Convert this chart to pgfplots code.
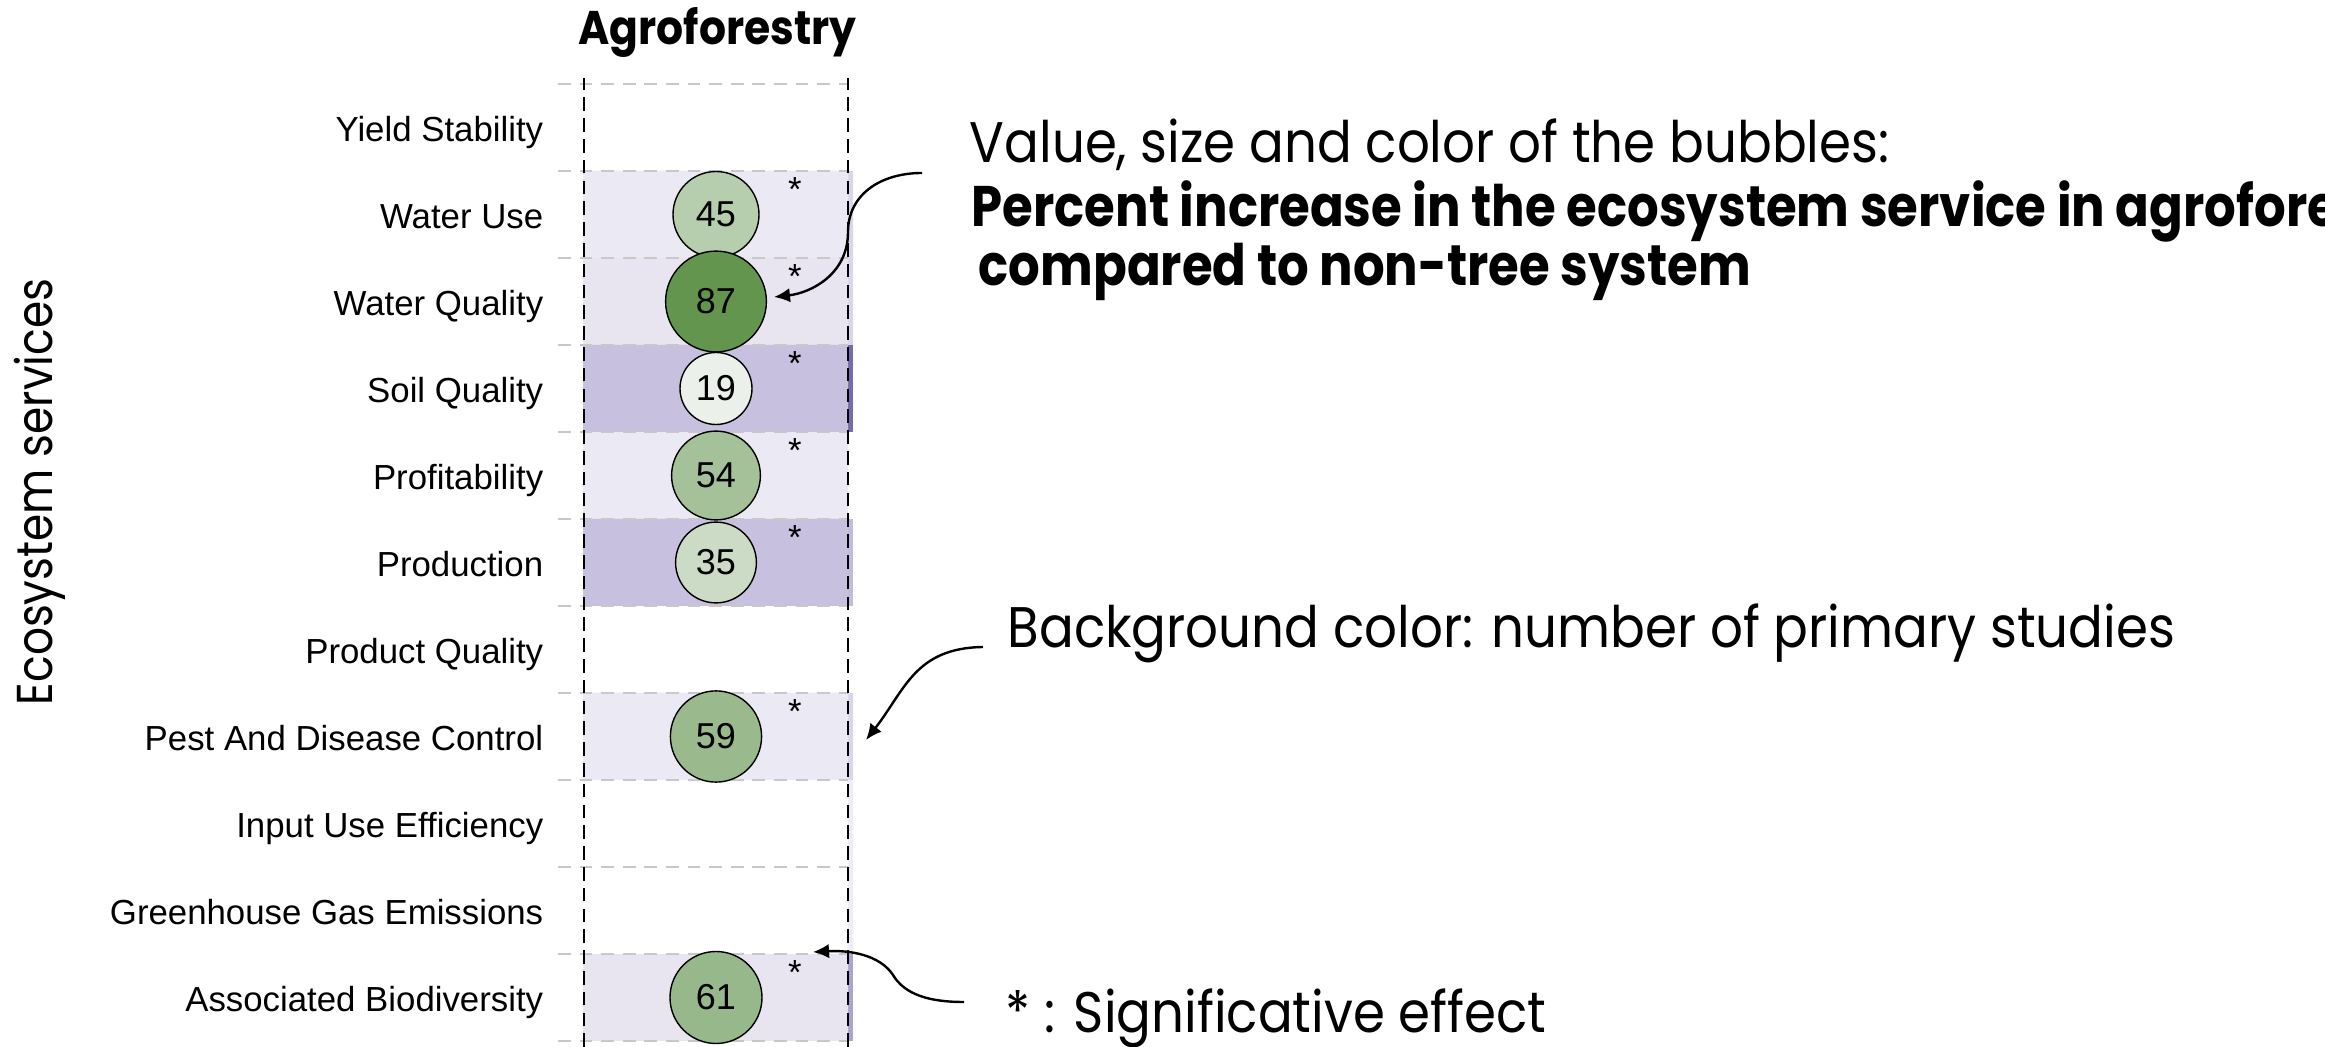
\documentclass[border=0pt]{standalone}
\usepackage{fontspec}
\setmainfont{Liberation Sans}
\newfontfamily\cg[FakeStretch=0.9]{Poppins}
\newfontfamily\cgB[FakeStretch=0.87]{Poppins}
\newfontfamily\cgN[FakeStretch=0.87]{Poppins}
\usepackage{pgfplots}
\pgfplotsset{compat=1.18}
\usetikzlibrary{arrows.meta}

% tile colours (number of primary studies)
\definecolor{tileA}{HTML}{EBE9F3}
\definecolor{tileB}{HTML}{E8E5F1}
\definecolor{tileC}{HTML}{C7C0DE}
% right-hand slivers of the neighbouring column
\definecolor{sliA}{HTML}{DAD6EA}
\definecolor{sliB}{HTML}{776BB0}
\definecolor{sliC}{HTML}{C3BBDB}
\definecolor{sliD}{HTML}{EEECF5}
\definecolor{sliE}{HTML}{ACA3D0}
\definecolor{gridgray}{HTML}{C8C8C8}

\tikzset{
  gline/.style={gridgray,line width=0.65pt,dash pattern=on 3.2pt off 2.2pt},
  vline/.style={black,line width=0.65pt,dash pattern=on 3.4pt off 1.8pt},
  note/.style={anchor=base west,inner sep=0pt,font=\cg\fontsize{14.3}{16}\selectfont},
  arr/.style={line width=0.6pt,-{Latex[length=4pt,width=3.6pt]}},
}

% row: 1 = Associated Biodiversity ... 11 = Yield Stability
\pgfplotstableread{
x   y  v  r
133 10 45 10.75
133 9  87 12.6
133 8  19 9.0
133 7  54 11.1
133 6  35 10.1
133 4  59 11.4
133 1  61 11.5
}\bubbles

\begin{document}
\begin{tikzpicture}
\path[use as bounding box] (0,0) rectangle (581.25pt,-261.75pt);
\begin{axis}[
  at={(145.75pt,-261.75pt)}, anchor=south west,
  scale only axis, width=67.5pt, height=242.25pt,
  xmin=0, xmax=270, ymin=0.431, ymax=11.569,
  clip=false,
  axis x line=none,
  axis y line*=left,
  y axis line style={draw=none},
  major tick length=0pt,
  ytick={1,...,11},
  yticklabels={Associated Biodiversity,Greenhouse Gas Emissions,Input Use Efficiency,
    Pest And Disease Control,Product Quality,Production,Profitability,Soil Quality,
    Water Quality,Water Use,Yield Stability},
  yticklabel style={font=\fontsize{8.7}{10}\selectfont,anchor=base east,inner sep=0pt,
    xshift=-9.75pt,yshift=-3.4pt},
  colormap={grn}{rgb255=(235,241,234) rgb255=(99,149,79)},
  point meta min=19, point meta max=87,
  /pgf/number format/assume math mode=true,
]
  % slivers
  \addplot[xbar,bar shift=0pt,bar width=1,fill=sliA,draw=none] coordinates {(270,10) (270,9) (270,4)};
  \addplot[xbar,bar shift=0pt,bar width=1,fill=sliB,draw=none] coordinates {(270,8)};
  \addplot[xbar,bar shift=0pt,bar width=1,fill=sliC,draw=none] coordinates {(270,6)};
  \addplot[xbar,bar shift=0pt,bar width=1,fill=sliD,draw=none] coordinates {(270,3) (270,2)};
  \addplot[xbar,bar shift=0pt,bar width=1,fill=sliE,draw=none] coordinates {(270,1)};
  % tiles
  \addplot[xbar,bar shift=0pt,bar width=1,fill=tileA,draw=none] coordinates {(265,10) (265,7) (265,4)};
  \addplot[xbar,bar shift=0pt,bar width=1,fill=tileB,draw=none] coordinates {(265,9) (265,1)};
  \addplot[xbar,bar shift=0pt,bar width=1,fill=tileC,draw=none] coordinates {(265,8) (265,6)};
  \addplot[xbar,bar shift=0pt,bar width=1,fill=white,draw=none] coordinates {(265,3) (265,2)};
  % bubbles
  \addplot[scatter,only marks,mark=*,point meta=explicit,
    scatter/use mapped color={draw=black,fill=mapped color},
    visualization depends on={\thisrow{r} \as \rr},
    scatter/@pre marker code/.append style={/tikz/mark size=\rr pt},
    mark options={line width=0.35pt},
  ] table[x=x,y=y,meta=v] \bubbles;
  % bubble values
  \addplot[draw=none,mark=none,point meta=explicit,
    nodes near coords,nodes near coords align={anchor=center},
    every node near coord/.append style={font=\fontsize{9}{10}\selectfont,text=black},
  ] table[x=x,y=y,meta=v] \bubbles;
  % significance
  \addplot[draw=none,mark=none,nodes near coords={*},nodes near coords align={anchor=base},
    every node near coord/.append style={font=\fontsize{8.7}{10}\selectfont,text=black,inner sep=0pt},
  ] coordinates {(212,10.144) (212,9.144) (212,8.144) (212,7.144) (212,6.144) (212,4.144) (212,1.144)};
  \pgfplotsinvokeforeach{0.5,1.5,...,11.5}{\draw[gline] (axis cs:-25,#1) -- (axis cs:265,#1);}
  \draw[vline] (axis cs:1,0.431) -- (axis cs:1,11.569);
  \draw[vline] (axis cs:265,0.431) -- (axis cs:265,11.569);
\end{axis}
\begin{scope}[x=0.25pt,y=-0.25pt]
  \node[anchor=base,inner sep=0pt,font=\cg\bfseries\fontsize{11.8}{13}\selectfont] at (717.5,45) {Agroforestry};
  \node[rotate=90,anchor=base,inner sep=0pt,font=\cgN\fontsize{12.6}{14}\selectfont] at (52,492) {Ecosystem services};
  \node[note] at (969,163) {Value, size and color of the bubbles:};
  \node[note,font=\cgB\bfseries\fontsize{14.3}{16}\selectfont] at (971,227) {Percent increase in the ecosystem service in agroforestry};
  \node[note,font=\cgB\bfseries\fontsize{14.3}{16}\selectfont] at (978,286) {compared to non-tree system};
  \node[note] at (1007,648) {Background color: number of primary studies};
  \node[note] at (1005,1032) {* : Significative effect};
  \draw[arr] (922,173) .. controls (880,173) and (848,195) .. (848,232)
    .. controls (848,275) and (810,293) .. (774,297);
  \draw[arr] (983,647) .. controls (915,648) and (905,690) .. (866,740);
  \draw[arr] (964,1002) .. controls (930,1002) and (905,995) .. (893,975)
    .. controls (880,955) and (850,950) .. (813,952);
\end{scope}
\end{tikzpicture}
\end{document}
